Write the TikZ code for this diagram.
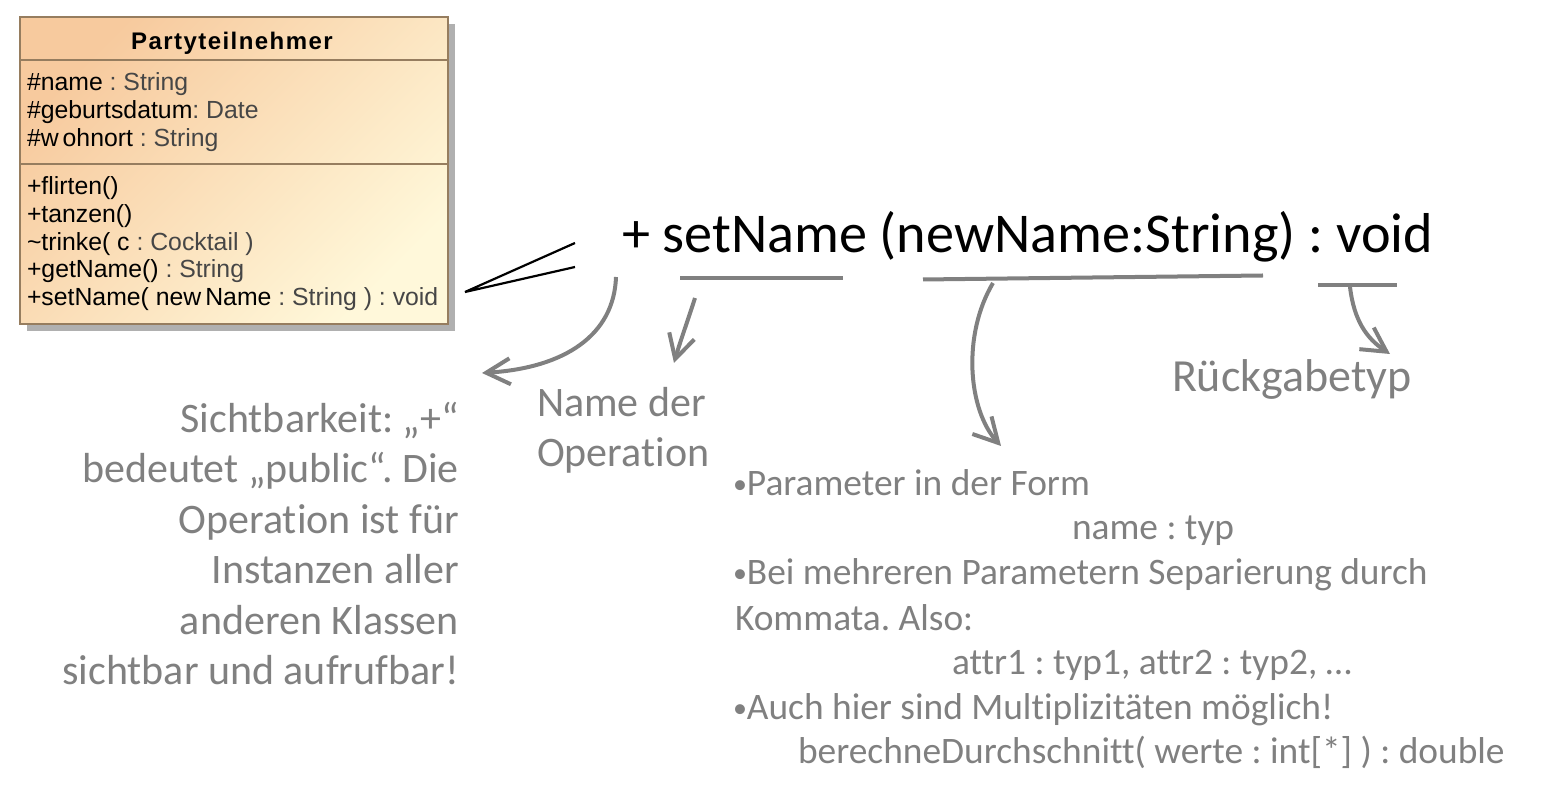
\documentclass[tikz,border=0pt]{standalone}
\usepackage{fontspec}
\setmainfont{Carlito}[Ligatures={NoCommon}]
\newfontfamily\umlfont{Liberation Sans}
\newfontfamily\umltitlefont[LetterSpace=6]{Liberation Sans}
\usetikzlibrary{arrows.meta,shadows}
\definecolor{annot}{RGB}{128,128,128}
\definecolor{arrowgray}{RGB}{128,128,128}
\definecolor{umlborder}{RGB}{150,125,95}
\definecolor{umltop}{RGB}{247,202,158}
\definecolor{umlbot}{RGB}{255,248,218}
\definecolor{umltype}{RGB}{70,70,70}
\definecolor{umlshadow}{RGB}{176,176,176}
\frenchspacing
\newcommand{\smallbul}{\raisebox{1.2pt}{\fontsize{14}{14}\selectfont •}}
\begin{document}
\begin{tikzpicture}[x=0.5pt,y=-0.5pt,
  every node/.style={inner sep=0pt, outer sep=0pt},
  classbox/.style={draw=umlborder, line width=1pt, top color=umltop, bottom color=umlbot, shading angle=45,
    drop shadow={shadow xshift=3.5pt, shadow yshift=-3.5pt, fill=umlshadow, opacity=1}},
  umltitle/.style={anchor=base, font=\umltitlefont\bfseries\fontsize{12}{14}\selectfont},
  umltext/.style={anchor=base west, font=\umlfont\fontsize{12.4}{14}\selectfont},
  bigsig/.style={anchor=base west, font=\fontsize{28.1}{34}\selectfont},
  notel/.style={anchor=base east, text=annot, font=\fontsize{21}{25}\selectfont},
  note/.style={anchor=base west, text=annot, font=\fontsize{21}{25}\selectfont},
  notebig/.style={anchor=base west, text=annot, font=\fontsize{23}{27}\selectfont},
  notesmall/.style={anchor=base west, text=annot, font=\fontsize{18.7}{22}\selectfont},
  callout/.style={draw=arrowgray, line width=2pt, -{Straight Barb[length=12pt,width=13pt]}},
  uline/.style={draw=arrowgray, line width=2pt},
  pointer/.style={draw=black, line width=1.1pt}
]
\useasboundingbox (0,0) rectangle (1560,790);

% class box
\node[classbox, anchor=north west, minimum width=214pt, minimum height=153.5pt] (cls) at (20,17) {};
\draw[umlborder, line width=1pt] (cls.west |- 0,60.3) -- (cls.east |- 0,60.3);
\draw[umlborder, line width=1pt] (cls.west |- 0,164.3) -- (cls.east |- 0,164.3);
\node[umltitle] (title) at (232,49.5) {Partyteilnehmer};
\node[umltext] (a1) at (27,91) {\#name \textcolor{umltype}{: String}};
\node[umltext] (a2) at (27,119) {\#geburtsdatum\textcolor{umltype}{: Date}};
\node[umltext] (a3) at (27,147) {\#w\kern2pt ohnort \textcolor{umltype}{: String}};
\node[umltext] (m1) at (27,195) {+flirten()};
\node[umltext] (m2) at (27,223) {+tanzen()};
\node[umltext] (m3) at (27,250.5) {\textasciitilde trinke( c \textcolor{umltype}{: Cocktail )}};
\node[umltext] (m4) at (27,278) {+getName() \textcolor{umltype}{: String}};
\node[umltext] (m5) at (27,306) {+setName( new\kern2pt Name \textcolor{umltype}{: String ) : void}};

% signature
\node[bigsig] (sig) at (622,253) {+ setName (newName:String) : void};

% pointer lines from the class to the signature
\coordinate (apex) at (465,292);
\coordinate (pt1) at (575,243);
\coordinate (pt2) at (575,267);
\draw[pointer] (pt1) -- (apex) -- (pt2);

% underlines
\coordinate (u1a) at (680,278);   \coordinate (u1b) at (843,278);
\coordinate (u2a) at (923,279.5); \coordinate (u2b) at (1263,275.5);
\coordinate (u3a) at (1318,285);  \coordinate (u3b) at (1397,285);
\draw[uline] (u1a) -- (u1b);
\draw[uline] (u2a) -- (u2b);
\draw[uline] (u3a) -- (u3b);

% annotations
\node[notel] (s1) at (459,433) {Sichtbarkeit: „+“};
\node[notel] (s2) at (459,483) {bedeutet „public“. Die};
\node[notel] (s3) at (459,533.5) {Operation ist für};
\node[notel] (s4) at (459,584) {Instanzen aller};
\node[notel] (s5) at (459,634.5) {anderen Klassen};
\node[notel] (s6) at (459,685) {sichtbar und aufrufbar!};

\node[note] (n1) at (537,417) {Name der};
\node[note] (n2) at (537,467) {Operation};

\node[notebig] (rt) at (1172,392) {Rückgabetyp};

\node[notesmall] (p1) at (733,496) {\smallbul Parameter in der Form};
\node[notesmall] (p2) at (1072,540) {name : typ};
\node[notesmall] (p3) at (733,585) {\smallbul Bei mehreren Parametern Separierung durch};
\node[notesmall] (p4) at (735,631) {Kommata. Also:};
\node[notesmall] (p5) at (952,675) {attr1 : typ1, attr2 : typ2, …};
\node[notesmall] (p6) at (733,720) {\smallbul Auch hier sind Multiplizitäten möglich!};
\node[notesmall] (p7) at (798,764) {berechneDurchschnitt( werte : int[*] ) : double};

% callout arrows
\coordinate (c1s) at (616,277); \coordinate (c1e) at (482,373);
\coordinate (c2s) at (695,298); \coordinate (c2e) at (674,363);
\coordinate (c3s) at (993,283); \coordinate (c3e) at (1001,446);
\coordinate (c4s) at (1350,287); \coordinate (c4e) at (1390,354);
\draw[callout] (c1s) .. controls (614,335) and (565,368) .. (c1e);
\draw[callout] (c2s) .. controls (688,320) and (680,342) .. (c2e);
\draw[callout] (c3s) .. controls (962,335) and (968,410) .. (c3e);
\draw[callout] (c4s) .. controls (1354,320) and (1366,338) .. (c4e);
\end{tikzpicture}
\end{document}
